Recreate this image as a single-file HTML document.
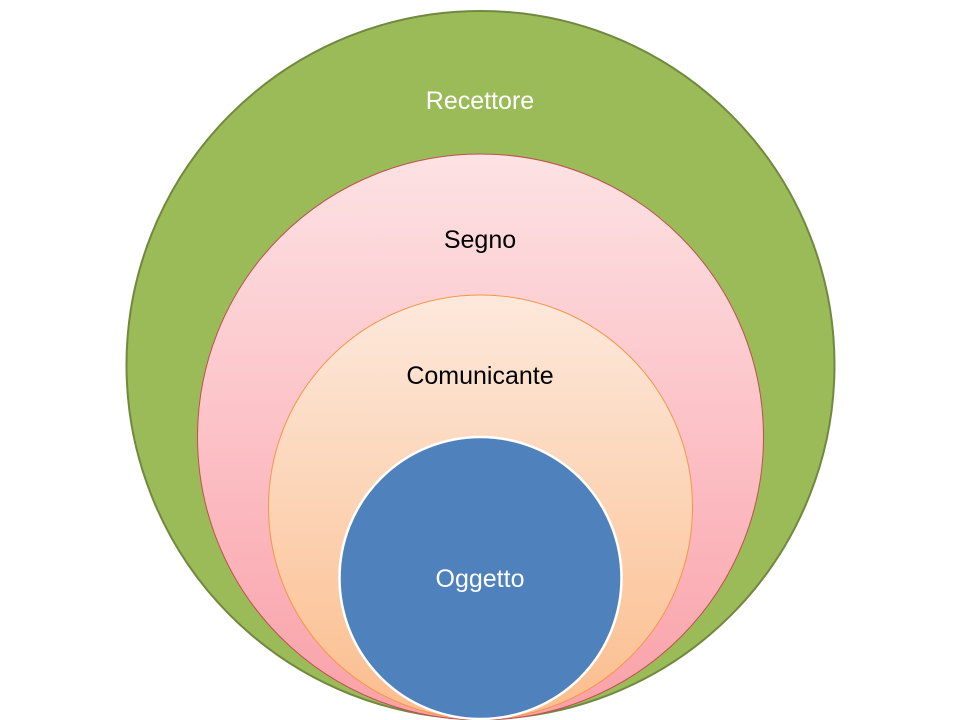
<!DOCTYPE html>
<html><head><meta charset="utf-8"><style>
html,body{margin:0;padding:0;background:#fff;width:960px;height:720px;overflow:hidden}
text{font-family:"Liberation Sans",sans-serif;font-size:25px;text-anchor:middle}
</style></head><body>
<svg width="960" height="720" viewBox="0 0 960 720">
<defs>
<linearGradient id="pk" x1="0" y1="0" x2="0" y2="1">
<stop offset="0" stop-color="#fde2e4"/><stop offset="1" stop-color="#faa0a8"/></linearGradient>
<linearGradient id="pe" x1="0" y1="0" x2="0" y2="1">
<stop offset="0" stop-color="#fde9dc"/><stop offset="1" stop-color="#fbbd8d"/></linearGradient>
</defs>
<circle cx="480.5" cy="365" r="354" fill="#9bbb59" stroke="#71893f" stroke-width="2"/>
<circle cx="480.5" cy="437" r="283" fill="url(#pk)" stroke="#c0504d" stroke-width="1"/>
<circle cx="480.5" cy="507" r="212" fill="url(#pe)" stroke="#f79646" stroke-width="1"/>
<circle cx="480.5" cy="578" r="141" fill="#4f81bd" stroke="#fff" stroke-width="2.5"/>
<text x="480" y="109" fill="#fff">Recettore</text>
<text x="480" y="248" fill="#000">Segno</text>
<text x="480" y="384" fill="#000">Comunicante</text>
<text x="480" y="587" fill="#fff">Oggetto</text>
</svg>
</body></html>
